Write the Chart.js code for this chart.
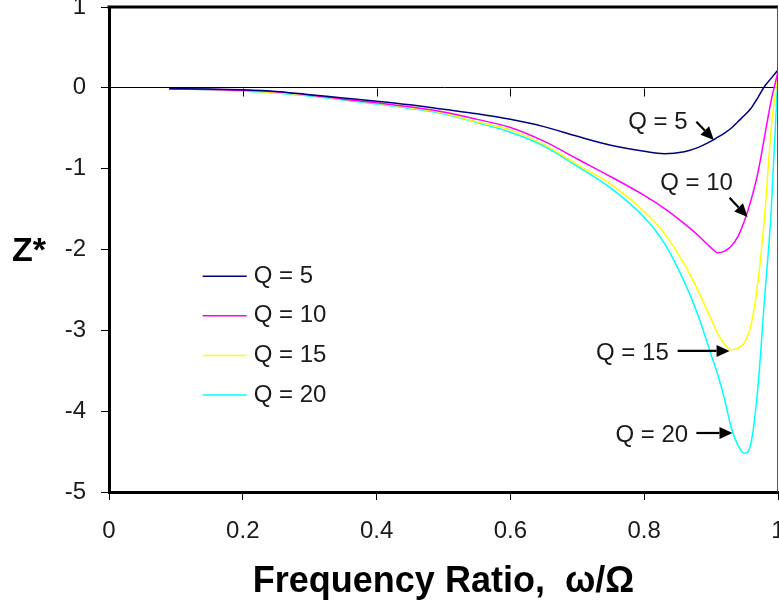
<!DOCTYPE html>
<html>
<head>
<meta charset="utf-8">
<script src="https://cdn.jsdelivr.net/npm/chart.js@4/dist/chart.umd.min.js"></script>
<style>
html,body{margin:0;padding:0;background:#fff;overflow:hidden;}
#wrap{position:relative;width:800px;height:609px;}
</style>
</head>
<body>
<div id="wrap"><canvas id="c" width="800" height="609"></canvas></div>
<script>
// ---- data ----
const ratio = [0.09,0.15,0.2,0.25,0.3,0.35,0.4,0.45,0.5,0.55,0.6,0.65,0.7,0.75,0.8,0.83,0.86,0.88,0.9,0.91,0.92,0.93,0.94,0.95,0.96,0.97,0.98,0.99,1.0];
const zQ5  = [-0.01,-0.015,-0.025,-0.045,-0.085,-0.125,-0.165,-0.21,-0.265,-0.32,-0.39,-0.48,-0.60,-0.71,-0.785,-0.815,-0.79,-0.74,-0.66,-0.61,-0.56,-0.50,-0.42,-0.34,-0.25,-0.12,0.02,0.12,0.22];
const zQ10 = [-0.01,-0.02,-0.03,-0.05,-0.09,-0.14,-0.185,-0.235,-0.30,-0.39,-0.49,-0.66,-0.88,-1.10,-1.33,-1.49,-1.68,-1.82,-1.98,-2.04,-2.02,-1.96,-1.84,-1.64,-1.38,-1.05,-0.60,-0.15,0.2];
const zQ15 = [-0.01,-0.02,-0.035,-0.06,-0.09,-0.145,-0.19,-0.245,-0.31,-0.42,-0.52,-0.70,-0.95,-1.19,-1.53,-1.80,-2.18,-2.50,-2.86,-3.04,-3.17,-3.24,-3.22,-3.15,-2.92,-2.40,-1.58,-0.49,0.2];
const zQ20 = [-0.01,-0.025,-0.04,-0.065,-0.10,-0.15,-0.20,-0.255,-0.32,-0.43,-0.55,-0.72,-0.97,-1.24,-1.60,-1.92,-2.40,-2.80,-3.30,-3.55,-3.85,-4.20,-4.42,-4.52,-4.38,-3.70,-2.60,-1.50,0.2];
const seriesLabels = ['Q = 5','Q = 10','Q = 15','Q = 20'];
const seriesColors = ['#000080','#FF00FF','#FFFF00','#00FFFF'];
const xTicks = [0,0.2,0.4,0.6,0.8,1];
const yTicks = [1,0,-1,-2,-3,-4,-5];
const xTitle = 'Frequency Ratio,  \u03C9/\u03A9';
const yTitle = 'Z*';
// annotation labels: text anchor and arrow tail/tip in data units
const noteText  = ['Q = 5','Q = 10','Q = 15','Q = 20'];
const noteAt    = [[0.776,-0.433],[0.824,-1.176],[0.728,-3.28],[0.757,-4.295]];
const noteTail  = [[0.878,-0.42],[0.9276,-1.361],[0.850,-3.255],[0.878,-4.27]];
const noteTip   = [[0.904,-0.644],[0.9545,-1.597],[0.9276,-3.255],[0.932,-4.27]];

const allZ = [zQ5,zQ10,zQ15,zQ20];
const FONT = "'Liberation Sans', Arial, sans-serif";

function drawArrow(ctx, x1, y1, x2, y2) {
  const ang = Math.atan2(y2 - y1, x2 - x1);
  const hl = 13, hw = 6;
  const bx = x2 - hl * Math.cos(ang), by = y2 - hl * Math.sin(ang);
  ctx.beginPath();
  ctx.moveTo(x1, y1);
  ctx.lineTo(bx, by);
  ctx.lineWidth = 2.2;
  ctx.strokeStyle = '#000';
  ctx.stroke();
  ctx.beginPath();
  ctx.moveTo(x2, y2);
  ctx.lineTo(bx + hw * Math.sin(ang), by - hw * Math.cos(ang));
  ctx.lineTo(bx - hw * Math.sin(ang), by + hw * Math.cos(ang));
  ctx.closePath();
  ctx.fillStyle = '#000';
  ctx.fill();
}

const decor = {
  id: 'decor',
  afterDraw(chart) {
    const {ctx, chartArea: a, scales: {x, y}} = chart;
    ctx.save();
    // top border (thick) and right border (thin)
    ctx.strokeStyle = '#000';
    ctx.lineWidth = 3;
    ctx.beginPath(); ctx.moveTo(a.left - 1.5, a.top); ctx.lineTo(a.right, a.top); ctx.stroke();
    ctx.strokeStyle = '#555';
    ctx.lineWidth = 1;
    ctx.beginPath(); ctx.moveTo(a.right - 0.5, a.top); ctx.lineTo(a.right - 0.5, a.bottom); ctx.stroke();
    // small tick marks hanging from the zero line
    const y0 = Math.round(y.getPixelForValue(0)) + 0.5;
    ctx.strokeStyle = '#000';
    ctx.lineWidth = 1;
    x.ticks.forEach(t => {
      if (t.value <= 0 || t.value >= 1) return;
      const px = Math.round(x.getPixelForValue(t.value)) + 0.5;
      ctx.beginPath(); ctx.moveTo(px, y0); ctx.lineTo(px, y0 + 8); ctx.stroke();
    });
    // y title, horizontal
    ctx.fillStyle = '#000';
    ctx.font = "bold 34px " + FONT;
    ctx.textAlign = 'left';
    ctx.textBaseline = 'middle';
    ctx.fillText(yTitle, 12, y.getPixelForValue(-2) + 2);
    // legend inside the plot
    ctx.font = "24px " + FONT;
    chart.data.datasets.forEach((ds, i) => {
      const ly = y.getPixelForValue(-2.33 - i * 0.49);
      const lx = x.getPixelForValue(0.14);
      ctx.strokeStyle = ds.borderColor;
      ctx.lineWidth = 1.5;
      ctx.beginPath(); ctx.moveTo(lx, ly); ctx.lineTo(lx + 44, ly); ctx.stroke();
      ctx.fillStyle = '#1a1a1a';
      ctx.fillText(ds.label, lx + 51, ly);
    });
    // annotations with arrows
    noteText.forEach((t, i) => {
      ctx.fillStyle = '#1a1a1a';
      ctx.font = "24px " + FONT;
      ctx.fillText(t, x.getPixelForValue(noteAt[i][0]), y.getPixelForValue(noteAt[i][1]));
      drawArrow(ctx, x.getPixelForValue(noteTail[i][0]), y.getPixelForValue(noteTail[i][1]),
                     x.getPixelForValue(noteTip[i][0]), y.getPixelForValue(noteTip[i][1]));
    });
    ctx.restore();
  }
};

new Chart(document.getElementById('c'), {
  type: 'line',
  data: {
    datasets: allZ.map((z, i) => ({
      label: seriesLabels[i],
      data: ratio.map((r, k) => ({x: r, y: z[k]})),
      borderColor: seriesColors[i],
      backgroundColor: seriesColors[i],
      borderWidth: 1.5,
      pointRadius: 0,
      fill: false,
      cubicInterpolationMode: 'monotone'
    }))
  },
  options: {
    responsive: false,
    animation: false,
    devicePixelRatio: 1,
    layout: {padding: {left: 0, right: 22, top: 7, bottom: 0}},
    plugins: {legend: {display: false}, tooltip: {enabled: false}, title: {display: false}},
    scales: {
      x: {
        type: 'linear', min: 0, max: 1,
        afterBuildTicks(s) { s.ticks = xTicks.map(v => ({value: v})); },
        ticks: {padding: 17, color: '#1a1a1a', maxRotation: 0, autoSkip: false,
                font: {family: FONT, size: 24},
                callback: v => String(v)},
        grid: {drawOnChartArea: false, tickLength: 8, color: '#000', tickColor: '#000', lineWidth: 1},
        border: {color: '#000', width: 3},
        title: {display: true, text: xTitle, color: '#000',
                font: {family: FONT, size: 36, weight: 'bold'}, padding: {top: 0, bottom: 5}},
        afterFit(s) { s.height = 117; s.paddingLeft = 0; s.paddingRight = 0; }
      },
      y: {
        min: -5, max: 1,
        afterBuildTicks(s) { s.ticks = yTicks.slice().reverse().map(v => ({value: v})); },
        ticks: {padding: 15, color: '#1a1a1a', autoSkip: false,
                font: {family: FONT, size: 24},
                callback: v => String(v)},
        grid: {drawOnChartArea: true, tickLength: 8, tickColor: '#000', lineWidth: 1,
               color: c => (c.tick && c.tick.value === 0) ? '#000' : 'rgba(0,0,0,0)'},
        border: {color: '#000', width: 3},
        afterFit(s) { s.width = 109; s.paddingTop = 0; s.paddingBottom = 0; }
      }
    }
  },
  plugins: [decor]
});
</script>
</body>
</html>
